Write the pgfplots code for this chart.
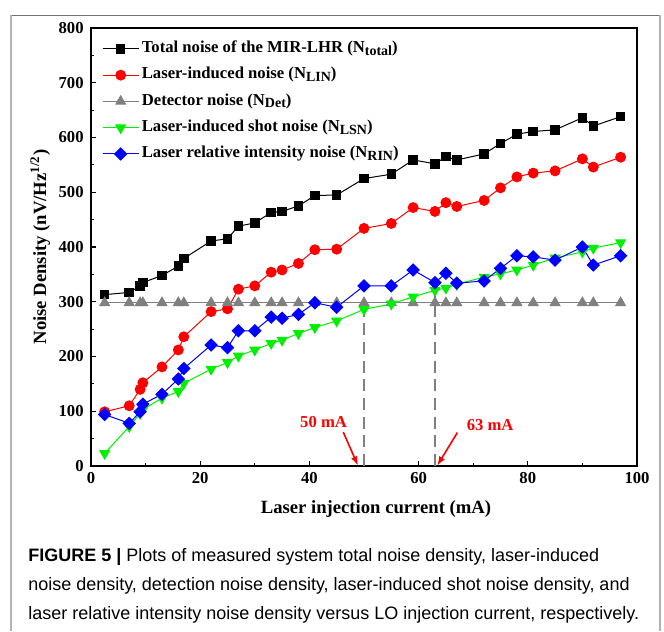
\documentclass[border=0pt]{standalone}
\usepackage{fontspec}
\setmainfont{Liberation Serif}
\newfontfamily\capfont{Liberation Sans}
\usepackage{pgfplots}
\pgfplotsset{compat=1.18}
\usetikzlibrary{arrows.meta}
\definecolor{cgreen}{RGB}{0,240,0}
\definecolor{cgray}{RGB}{128,128,128}
\newcommand{\sub}[1]{\raisebox{-0.35ex}{\fontsize{10.5}{12}\selectfont #1}}

\pgfplotstableread{
x    tot  lin  det  lsn  rin
2.5  313   99  298   23   94
7    317  110  298   72   78
9    329  140  298   96   99
9.5  335  152  298  103  113
13   348  181  298  124  131
16   365  212  298  136  159
17   379  236  298  151  178
22   411  282  298  177  221
25   415  287  298  189  216
27   438  323  298  201  247
30   444  329  298  212  247
33   463  354  298  224  272
35   465  358  298  230  270
38   475  370  298  242  277
41   494  395  298  253  298
45   495  396  298  265  290
50   525  434  298  286  329
55   533  443  298  296  329
59   559  472  298  309  358
63   552  465  298  321  335
65   565  481  298  325  352
67   559  474  298  332  334
72   570  485  298  345  338
75   589  508  298  351  361
78   606  528  298  358  384
81   611  535  298  367  382
85   614  539  298  380  376
90   636  561  298  391  400
92   621  546  298  398  367
97   638  564  298  408  384
}\noise

\begin{document}
\begin{tikzpicture}
\path (0pt,0pt) rectangle (498pt,473.25pt);
\draw[line width=0.6pt, black!55] (8.25pt,462pt) -- (495pt,462pt);
\draw[line width=1pt, black!30] (8.25pt,0pt) -- (8.25pt,462pt) (495pt,462pt) -- (495pt,0pt);

\begin{axis}[
  at={(68.25pt,123.75pt)}, anchor=south west, scale only axis,
  width=409.5pt, height=328.5pt,
  xmin=0, xmax=100, ymin=0, ymax=800,
  xtick={0,20,...,100}, ytick={0,100,...,800},
  minor x tick num=1, minor y tick num=1,
  tick align=inside, xtick pos=left, ytick pos=left,
  major tick length=4pt, minor tick length=2.5pt,
  axis line style={line width=1pt},
  every tick/.style={black, line width=0.9pt},
  /pgf/number format/assume math mode=true,
  tick label style={font=\bfseries\fontsize{12.5}{14}\selectfont},
  yticklabel style={xshift=-2pt},
  xticklabel style={yshift=-1.5pt},
  xlabel={Laser injection current (mA)},
  ylabel={Noise Density (nV/Hz\textsuperscript{1/2})},
  label style={font=\bfseries\fontsize{14}{16}\selectfont},
  xlabel style={at={(axis description cs:0.522,-0.108)}, anchor=base},
  ylabel style={at={(axis description cs:-0.093,0.5)}, anchor=center},
  legend cell align=left,
  legend style={at={(0.02,0.978)}, anchor=north west, draw=none, fill=none,
    font=\bfseries\fontsize{12.5}{14}\selectfont, row sep=3.2pt,
    inner sep=0pt, nodes={inner sep=2pt, text height=9pt, text depth=3.5pt}},
  legend image code/.code={\draw[mark repeat=2,mark phase=2]
    plot coordinates {(0pt,0pt)(13.5pt,0pt)(27pt,0pt)};},
]
\addplot[black, line width=0.75pt, mark=square*, mark size=3.2pt] table[x=x,y=tot]{\noise};
\addlegendentry{Total noise of the MIR-LHR (N\sub{total})}
\addplot[red, line width=0.75pt, mark=*, mark size=3.7pt] table[x=x,y=lin]{\noise};
\addlegendentry{Laser-induced noise (N\sub{LIN})}
\addplot[cgray, line width=0.75pt, mark=triangle*, mark size=4.2pt] table[x=x,y=det]{\noise};
\addlegendentry{Detector noise (N\sub{Det})}
\addplot[cgreen, line width=0.75pt, mark=triangle*, mark size=4.2pt, mark options={rotate=180}] table[x=x,y=lsn]{\noise};
\addlegendentry{Laser-induced shot noise (N\sub{LSN})}
\addplot[blue, line width=0.75pt, mark=square*, mark size=3.2pt, mark options={rotate=45}] table[x=x,y=rin]{\noise};
\addlegendentry{Laser relative intensity noise (N\sub{RIN})}

\addplot[cgray, line width=1.8pt, dash pattern=on 9pt off 5pt, forget plot] coordinates {(50,0) (50,292)};
\addplot[cgray, line width=1.8pt, dash pattern=on 9pt off 5pt, forget plot] coordinates {(63,0) (63,330)};

\node[red, font=\bfseries\fontsize{12.5}{14}\selectfont] at (axis cs:42.6,81) {50 mA};
\draw[red, line width=1.2pt, -{Latex[length=7pt,width=5pt]}] (axis cs:46.2,62) -- (axis cs:48.9,0.5);
\node[red, font=\bfseries\fontsize{12.5}{14}\selectfont] at (axis cs:73.1,74) {63 mA};
\draw[red, line width=1.2pt, -{Latex[length=7pt,width=5pt]}] (axis cs:67.1,61) -- (axis cs:63.4,0.5);
\end{axis}

\begin{scope}[every node/.style={anchor=base west, inner sep=0pt, font=\capfont\fontsize{13.5}{16}\selectfont}]
\node at (21pt,51.75pt) {\textbf{FIGURE 5 |} Plots of measured system total noise density, laser-induced};
\node at (21pt,30pt) {noise density, detection noise density, laser-induced shot noise density, and};
\node at (21pt,8.25pt) {laser relative intensity noise density versus LO injection current, respectively.};
\end{scope}
\end{tikzpicture}
\end{document}
